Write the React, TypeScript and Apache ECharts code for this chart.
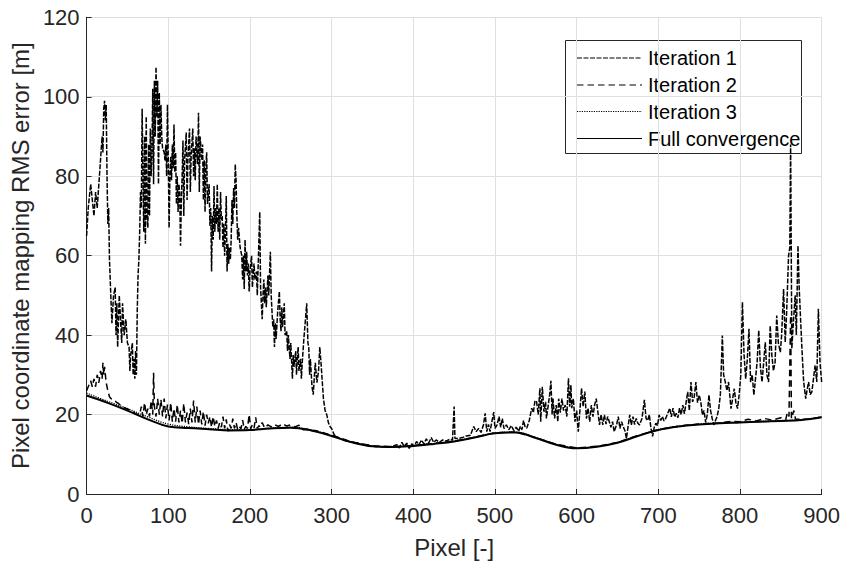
import React, { useEffect, useRef } from "react";
import * as echarts from "echarts";

const FONT = '"Liberation Sans", Arial, Helvetica, sans-serif';

const seriesNames = ["Iteration 1", "Iteration 2", "Iteration 3", "Full convergence"];

const iteration1: [number, number][] = [
  [0, 65], [2, 72], [5, 78], [7, 74], [9, 70], [11, 76], [13, 72], [15, 78], [17, 84], [19, 90],
  [20, 86], [21, 97], [22, 99], [23, 94], [24, 98], [25, 80], [26, 68], [27, 72], [28, 59], [30, 48],
  [31, 43], [33, 50], [35, 52], [36, 40], [37, 48], [38, 37], [40, 50], [41, 46], [43, 38], [44, 48],
  [46, 40], [48, 44], [50, 38], [52, 37], [53, 31], [54, 35], [56, 38], [57, 30], [58, 34], [59, 29],
  [60, 36], [61, 30], [62, 46], [63, 55], [64, 59], [65, 66], [66, 76], [67, 72], [68, 97], [69, 80],
  [70, 66], [71, 90], [72, 63], [73, 95], [74, 70], [75, 67], [76, 88], [77, 70], [78, 92], [79, 80],
  [80, 86], [81, 102], [82, 78], [83, 104], [84, 90], [85, 107.5], [86, 95], [87, 104], [88, 78], [89, 101],
  [90, 88], [91, 98], [92, 90], [93, 87], [95, 86], [96, 84], [97, 88], [98, 80], [99, 98], [100, 84],
  [101, 67], [102, 80], [103, 85], [104, 79], [105, 88], [106, 82], [107, 93], [108, 81], [109, 86], [110, 73],
  [111, 80], [112, 71], [113, 78], [114, 76], [115, 62.5], [116, 74], [117, 80], [118, 89], [119, 70], [120, 84],
  [122, 91], [123, 74], [124, 84], [126, 92], [127, 76], [128, 85], [130, 92], [131, 80], [132, 87], [133, 79],
  [134, 90], [136, 83], [137, 96], [138, 76], [139, 90], [141, 84], [142, 88], [143, 74], [144, 84], [145, 71],
  [146, 82], [147, 86], [148, 73], [150, 78], [151, 67.5], [152, 72], [153, 56], [154, 70], [155, 64], [156, 77.5],
  [157, 66], [158, 72], [159, 68], [160, 78], [161, 66], [162, 72], [163, 64], [164, 76], [165, 69], [166, 70],
  [167, 62], [168, 68], [169, 60], [170, 66], [171, 75], [172, 56], [173, 63], [174, 58], [175, 62], [176, 59],
  [177, 64], [178, 74], [179, 68], [180, 77], [181, 72], [182, 83], [183, 79], [184, 70], [185, 64], [186, 67],
  [188, 62], [190, 60], [191, 54], [192, 60], [193, 51.6], [194, 64], [195, 56], [196, 61], [197, 55], [198, 58],
  [199, 51], [200, 56], [202, 60], [203, 52], [205, 58], [206, 54], [208, 56], [209, 50], [211, 64], [212, 71],
  [213, 52], [215, 44], [216, 50], [217, 54], [218, 48], [219, 52], [220, 47], [222, 55], [223, 50], [225, 61],
  [226, 50], [227, 46], [228, 42], [229, 44], [230, 37], [231, 43], [232, 39], [234, 46], [236, 51], [237, 44],
  [238, 41], [239, 47], [240, 42], [242, 48], [243, 40], [245, 41], [246, 36], [247, 40], [249, 34], [250, 38],
  [252, 29], [253, 35], [254, 32], [256, 36], [257, 30], [258, 34], [259, 37], [260, 31], [262, 34], [263, 29],
  [264, 33], [266, 39], [268, 44], [269.5, 48], [271, 38], [272, 37], [273, 30], [274, 34], [276, 27], [277.5, 25],
  [279, 30], [280, 33], [282, 28], [284, 31], [285.5, 37], [287, 33], [288, 30], [290, 24], [292, 21], [294, 20],
  [296, 18], [298, 17], [300, 16.5], [303, 15], [306, 14.3], [310, 14], [315, 13.5], [320, 13.2], [325, 13.1], [330, 12.8],
  [340, 12.4], [350, 12.0], [360, 11.9], [370, 11.8], [380, 12.4], [383, 11.6], [386, 13.0], [389, 12.0], [392, 12.8], [395, 11.5],
  [398, 12.6], [401, 12.1], [404, 13.2], [407, 12.4], [410, 13.6], [413, 12.6], [416, 13.9], [419, 12.9], [422, 14.2], [425, 13.0],
  [428, 13.6], [432, 13.0], [436, 13.6], [440, 13.3], [445, 13.8], [448, 13.6], [450, 22], [451, 14], [455, 14.0], [460, 14.2],
  [465, 14.6], [470, 14.8], [474, 17], [477, 15.7], [480, 16.5], [483, 15.5], [486, 17.5], [488, 20.3], [490, 15.7], [492, 17.5],
  [494, 15.7], [496, 18], [498.5, 20.6], [500, 16.5], [502.6, 17.4], [505, 19.5], [507, 16.8], [509, 19], [511, 16.5], [514, 17.4],
  [517, 16.2], [520, 17.2], [523, 16.0], [526, 16.8], [529, 15.8], [531, 17], [533, 16.2], [535, 18.5], [537, 16.8], [539, 16.6],
  [542, 18.5], [545, 21.6], [547, 20.5], [549, 23.5], [551, 23.2], [553, 20], [555, 26.6], [556, 18.2], [558, 27], [560, 20.7],
  [562, 23.2], [563, 19], [565, 22], [567, 25], [568.5, 28.5], [570, 20], [571, 24], [573, 19], [575, 22.4], [577, 18.2],
  [578, 24], [580, 20.5], [582, 24], [584, 21], [586, 22.4], [588, 19.5], [590, 29.1], [591.5, 22], [593, 27.4], [594, 21.6],
  [596, 24], [598, 18.2], [600, 21], [602, 15.7], [604, 21], [606, 26.6], [608, 22], [610, 25.8], [612, 19], [614, 21.6],
  [616, 18.2], [618, 22.4], [620, 19.5], [622, 22.4], [624, 24], [626, 20.7], [628, 17.4], [630, 20], [632, 17.4], [634, 19.9],
  [636, 17.6], [638, 19.5], [640, 18.2], [642, 16.8], [644, 18.2], [646, 15.7], [649, 17.5], [651, 19.5], [653, 16.5], [655, 18.2],
  [657, 17], [659, 16], [661, 14], [663, 17], [665, 19.9], [667, 17.4], [669, 19.5], [671, 17.5], [673, 19], [675, 17.8],
  [677, 17.4], [680, 19], [683, 23.7], [685, 19], [687, 18.5], [689, 20], [691, 16.5], [693, 14.5], [695, 16.8], [697, 17.8],
  [699, 17.2], [701, 19.9], [703, 18.5], [705, 19.5], [707, 18.4], [709, 19], [711, 20], [714, 21.6], [716, 19.4], [718, 21.6],
  [720, 19.4], [722, 20.3], [724, 19.2], [726, 21.6], [728, 20], [730, 22.4], [732, 20.2], [734, 23], [736, 25.7], [738, 21],
  [740, 28.2], [742, 23.2], [744, 24.5], [746, 28.2], [748, 23], [750, 24.9], [752, 23.2], [754, 19.9], [756, 21], [758, 18],
  [760, 20], [762, 24.9], [764, 21], [766, 19], [768, 17.4], [770, 18.5], [772, 19.5], [774, 21.5], [776, 25], [778.4, 39.9],
  [780, 30], [782, 28.2], [784, 26], [786, 28.2], [789, 21.5], [791, 24], [793, 26.5], [795, 23], [797, 21.5], [799, 25],
  [801, 29.9], [803, 48.3], [805, 35], [807, 29], [809, 34], [811, 41.6], [813, 28.2], [815, 30], [817, 24.9], [819, 29],
  [821, 33.2], [823, 41.2], [825, 32], [827, 28.2], [829, 33], [831, 38.2], [833, 30], [835, 28.2], [837, 42.4], [839, 35],
  [841, 31], [843, 33.2], [845, 44.9], [847, 38], [849.4, 35.7], [851, 40], [853.4, 51.6], [855.4, 38.2], [857, 45], [859.5, 60],
  [861, 62], [862, 88], [863.5, 36.6], [865, 42], [867.6, 50], [869, 40], [871, 62.5], [872.5, 52], [874, 44.9], [876, 36],
  [878, 28.2], [880.5, 24], [882, 26], [884, 28.2], [886, 25], [888, 25.7], [890, 29], [892, 32.4], [894, 28.2], [896, 46.6],
  [898, 33], [900, 28.2],
];

const iteration2: [number, number][] = [
  [0, 26], [3, 27.5], [5, 28.5], [7, 27], [9, 29], [11, 27], [13, 30], [15, 28], [17, 31], [19, 29],
  [20, 33], [21, 30], [22, 32], [24, 28], [26, 26], [28, 24.5], [30, 24], [33, 23.8], [36, 23.2], [40, 22.6],
  [45, 21.8], [50, 21.4], [55, 21], [60, 20.2], [65, 20], [67, 22], [69, 19.5], [71, 23], [73, 20], [75, 21.5],
  [77, 19.5], [79, 23.5], [81, 20], [82, 30.5], [83, 22], [85, 19.5], [87, 24], [89, 20], [91, 23.8], [93, 19.5],
  [95, 24], [97, 19], [99, 22.5], [101, 18.5], [103, 23], [105, 18.2], [107, 21.5], [109, 18.2], [111, 22.5], [113, 18],
  [115, 21], [117, 17.8], [119, 22.8], [121, 18], [123, 20.5], [125, 17.6], [127, 21.5], [129, 18], [131, 23.5], [133, 18],
  [135, 22], [137, 17.5], [139, 21], [141, 17.5], [143, 20.8], [145, 17.2], [147, 20], [149, 17.8], [151, 19.5], [153, 16.8],
  [155, 19.5], [157, 17], [159, 18.5], [161, 16.5], [163, 18], [165, 16.8], [167, 19.5], [169, 16.5], [171, 18.8], [173, 15.8],
  [175, 17.5], [177, 16.5], [179, 19], [181, 16.5], [183, 18], [185, 16.2], [187, 17], [189, 16.4], [191, 18.6], [193, 16.3],
  [195, 17], [197, 16.5], [199, 20], [201, 16.4], [203, 17.5], [205, 16.6], [207, 19.3], [209, 16.5], [211, 17.2], [213, 16.8],
  [215, 18], [218, 16.6], [222, 17.4], [226, 16.9], [230, 17.5], [235, 17.0], [240, 17.7], [245, 17.1], [250, 17.4], [255, 16.9],
  [260, 17.3], [265, 16.2], [270, 16.3], [275, 16.0], [280, 16.0], [290, 15.4], [300, 14.8], [325, 13.1], [350, 12.1], [375, 11.9],
  [400, 12.2], [425, 12.7], [450, 13.3], [475, 14.3], [500, 15.4], [525, 15.6], [550, 14.2], [575, 12.5], [600, 11.6], [625, 12.0],
  [650, 13.0], [675, 14.7], [700, 16.2], [725, 17.1], [750, 17.6], [775, 17.9], [790, 18.3], [800, 18.2], [810, 18.8], [820, 18.4],
  [830, 19.0], [840, 18.6], [850, 19.2], [856, 18.7], [858, 20.5], [860, 19.5], [862, 45], [863, 19], [866, 21], [868, 18.9],
  [875, 18.8], [885, 18.9], [900, 19.4],
];

const iteration3: [number, number][] = [
  [0, 25.4], [25, 23.4], [50, 21.5], [75, 19.4], [100, 17.6], [125, 16.9], [150, 16.5], [175, 16.2], [200, 16.2], [225, 16.6],
  [250, 16.8], [275, 16.1], [300, 14.7], [325, 13.1], [350, 12.1], [375, 11.9], [400, 12.2], [425, 12.7], [450, 13.3], [475, 14.3],
  [500, 15.4], [525, 15.6], [550, 14.2], [575, 12.5], [600, 11.6], [625, 12.0], [650, 13.0], [675, 14.7], [700, 16.2], [725, 17.1],
  [750, 17.6], [775, 17.9], [800, 18.1], [825, 18.3], [850, 18.5], [875, 18.7], [900, 19.4],
];

const fullConvergence: [number, number][] = [
  [0, 24.8], [25, 23.0], [50, 21.0], [75, 18.8], [100, 17.0], [125, 16.6], [150, 16.3], [175, 16.0], [200, 16.1], [225, 16.5],
  [250, 16.7], [275, 16.0], [300, 14.6], [325, 13.0], [350, 12.0], [375, 11.8], [400, 12.1], [425, 12.6], [450, 13.2], [475, 14.2],
  [500, 15.3], [525, 15.5], [550, 14.1], [575, 12.4], [600, 11.5], [625, 11.9], [650, 12.9], [675, 14.6], [700, 16.1], [725, 17.0],
  [750, 17.5], [775, 17.8], [800, 18.0], [825, 18.2], [850, 18.4], [875, 18.6], [900, 19.3],
];

const dashPatterns: number[][] = [[5, 1.5], [6.5, 4], [1.2, 1.2], []];
const seriesWidths = [1.5, 1.5, 1.3, 2];

export default function App() {
  const ref = useRef<HTMLDivElement>(null);
  useEffect(() => {
    if (!ref.current) return;
    const chart = echarts.init(ref.current, null, { renderer: "svg" });
    const axisColor = "#262626";
    const gridColor = "#dfdfdf";
    const datasets = [iteration1, iteration2, iteration3, fullConvergence];
    const legendRows = [58, 85, 111.5, 138.5];
    chart.setOption({
      animation: false,
      backgroundColor: "#ffffff",
      textStyle: { fontFamily: FONT },
      grid: { left: 83.5, right: 19.7, top: 17.3, bottom: 67.3, containLabel: false },
      xAxis: {
        type: "value",
        min: 0,
        max: 900,
        interval: 100,
        name: "Pixel [-]",
        nameLocation: "middle",
        nameGap: 41,
        nameTextStyle: { fontSize: 24, color: axisColor, fontFamily: FONT, verticalAlign: "top" },
        axisLine: { show: true, onZero: false, lineStyle: { color: axisColor, width: 1 } },
        axisTick: { show: true, inside: true, length: 5, lineStyle: { color: axisColor } },
        axisLabel: { fontSize: 22, color: axisColor, margin: 10, fontFamily: FONT },
        splitLine: { show: true, lineStyle: { color: gridColor, width: 1 } },
      },
      yAxis: {
        type: "value",
        min: 0,
        max: 120,
        interval: 20,
        name: "Pixel coordinate mapping RMS error [m]",
        nameLocation: "middle",
        nameGap: 50,
        nameRotate: 90,
        nameTextStyle: { fontSize: 24, color: axisColor, fontFamily: FONT },
        axisLine: { show: true, onZero: false, lineStyle: { color: axisColor, width: 1 } },
        axisTick: { show: true, inside: true, length: 5, lineStyle: { color: axisColor } },
        axisLabel: { fontSize: 22, color: axisColor, margin: 7, fontFamily: FONT },
        splitLine: { show: true, lineStyle: { color: gridColor, width: 1 } },
      },
      series: datasets.map((d, i) => ({
        name: seriesNames[i],
        type: "line",
        data: d,
        showSymbol: false,
        symbol: "none",
        smooth: i >= 2 ? 0.4 : false,
        z: 2 + i,
        lineStyle: {
          color: "#000000",
          width: seriesWidths[i],
          type: dashPatterns[i].length ? dashPatterns[i] : "solid",
        },
      })),
      graphic: [
        {
          type: "group",
          z: 100,
          children: [
            {
              type: "rect",
              shape: { x: 565.5, y: 40.5, width: 236, height: 113 },
              style: { fill: "#ffffff", stroke: axisColor, lineWidth: 1 },
            },
            ...seriesNames.map((n, i) => ({
              type: "line",
              shape: { x1: 577, y1: legendRows[i], x2: 642, y2: legendRows[i] },
              style: { stroke: "#000000", lineWidth: 1.2, lineDash: dashPatterns[i].length ? dashPatterns[i] : null },
            })),
            ...seriesNames.map((n, i) => ({
              type: "text",
              x: 648,
              y: legendRows[i],
              style: { text: n, fontSize: 20, fontFamily: FONT, fill: "#000000", verticalAlign: "middle", align: "left" },
            })),
          ],
        },
      ],
    });
    return () => chart.dispose();
  }, []);
  return (
    <div
      ref={ref}
      style={{ position: "absolute", left: 0, top: 0, width: 843, height: 564, background: "#fff" }}
    />
  );
}
